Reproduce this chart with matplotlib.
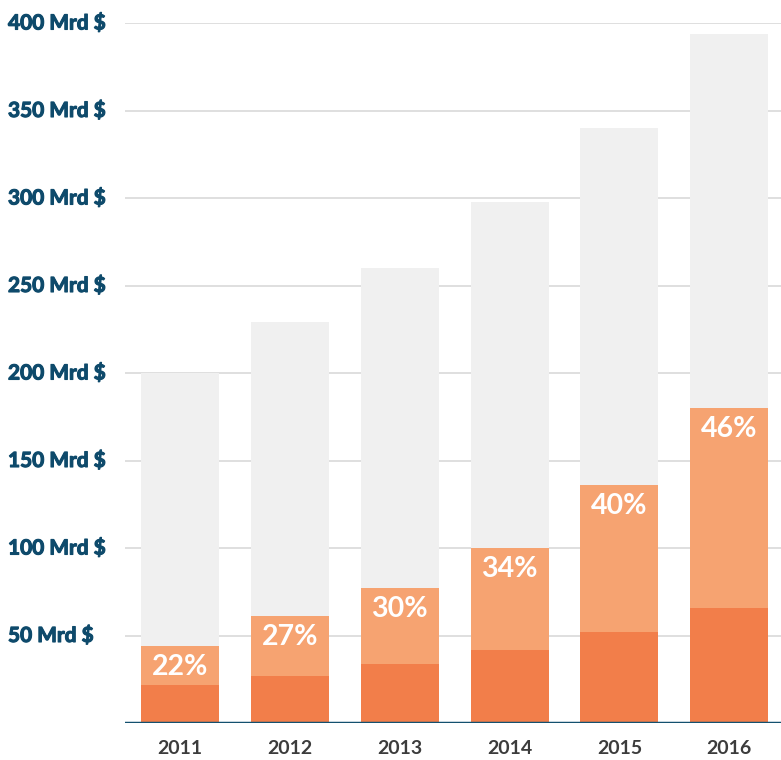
import matplotlib
matplotlib.use("Agg")
import matplotlib.pyplot as plt
import matplotlib.patheffects as pe
from matplotlib.transforms import blended_transform_factory

years = ["2011", "2012", "2013", "2014", "2015", "2016"]
total = [200, 229, 260, 298, 340, 394]
orange_total = [44, 61, 77, 100, 136, 180]
dark = [22, 27, 34, 42, 52, 66]
pct_labels = ["22%", "27%", "30%", "34%", "40%", "46%"]
yticks = [50, 100, 150, 200, 250, 300, 350, 400]
ytick_labels = [f"{v} Mrd $" for v in yticks]

c_grey = "#F0F0F0"
c_light = "#F6A371"
c_dark = "#F27E4A"
c_blue = "#0E4A6B"

fig = plt.figure(figsize=(7.81, 7.6), dpi=100)
ax = fig.add_axes([125/781, 37/760, 656/781, 700/760])

x = list(range(len(years)))
w = 0.71
light_part = [o - d for o, d in zip(orange_total, dark)]
grey_part = [t - o for t, o in zip(total, orange_total)]
ax.bar(x, dark, width=w, color=c_dark, zorder=2)
ax.bar(x, light_part, bottom=dark, width=w, color=c_light, zorder=2)
ax.bar(x, grey_part, bottom=orange_total, width=w, color=c_grey, zorder=2)

for xi, top, lab in zip(x, orange_total, pct_labels):
    ax.annotate(lab, (xi, top), xytext=(0, -21), textcoords="offset pixels",
                ha="center", va="center", color="white", fontsize=20.5,
                family="Lato", fontweight="bold", zorder=3)

ax.set_xlim(-0.5, 5.47)
ax.set_ylim(0, 400)
for v in yticks:
    ax.axhline(v, color="#DCDCDC", lw=1.3, zorder=1)
ax.axhline(0, color="#13506F", lw=2.5, zorder=4)

for s in ax.spines.values():
    s.set_visible(False)
ax.set_yticks([])
ax.set_xticks(x)
ax.set_xticklabels(years, fontsize=14, family="Lato", fontweight="bold", color="#3C3C3C")
ax.tick_params(axis="x", length=0, pad=12)

tr = blended_transform_factory(fig.transFigure, ax.transData)
for v, lab in zip(yticks, ytick_labels):
    ax.text(8/781, v, lab, transform=tr, ha="left", va="center", fontsize=15,
            family="Lato", fontweight="bold", color=c_blue, clip_on=False,
            path_effects=[pe.withStroke(linewidth=0.8, foreground=c_blue)])

fig.savefig("out.png", dpi=100)
